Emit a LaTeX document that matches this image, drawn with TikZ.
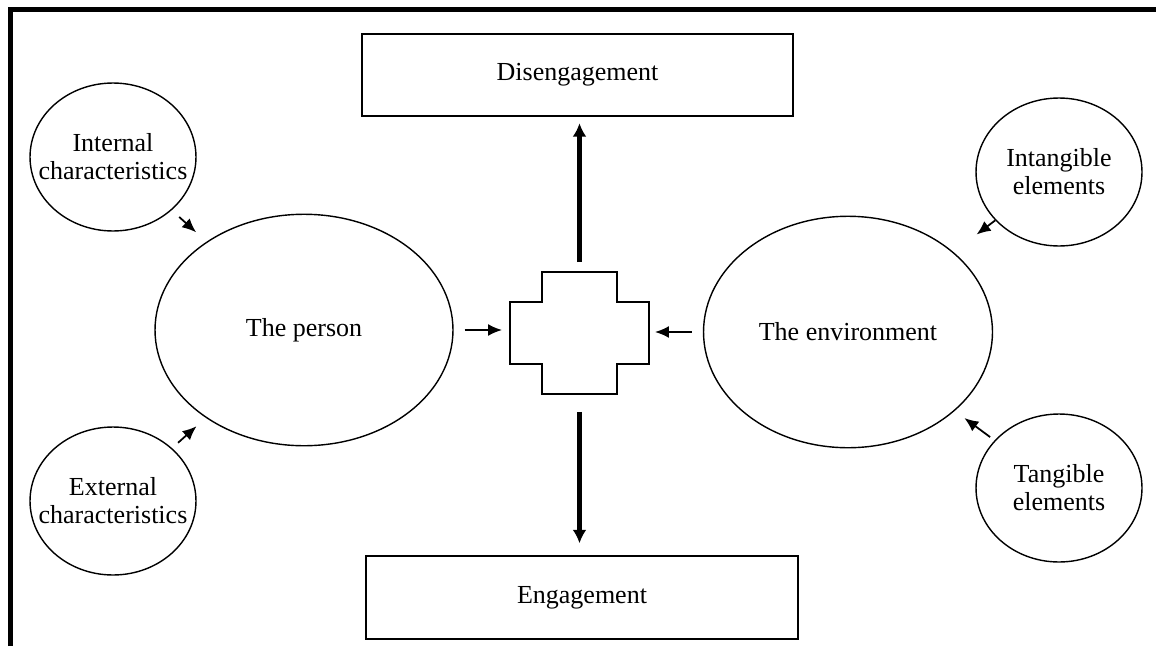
\documentclass[tikz,border=0pt]{standalone}
\usepackage{fontspec}
\setmainfont{Liberation Serif}
\usetikzlibrary{arrows.meta,shapes.geometric}

\begin{document}
\begin{tikzpicture}[x=0.02cm,y=-0.02cm]
    \tikzstyle{every node}=[font=\fontsize{14.8}{16}\selectfont]
    \tikzstyle{outcome}=[draw,line width=1.1pt,minimum width=8.63cm,minimum height=1.65cm]
    \tikzstyle{actor}=[draw,ellipse,line width=0.8pt,minimum height=4.63cm]
    \tikzstyle{factor}=[draw,ellipse,line width=0.8pt,inner xsep=-0.7cm,inner ysep=0pt,
      minimum width=3.32cm,minimum height=2.96cm,align=center]
    \tikzstyle{bigarrow}=[-{Latex[length=0.27cm,width=0.28cm]},line width=2.3pt]
    \tikzstyle{smallarrow}=[-{Latex[length=0.28cm,width=0.24cm]},line width=1pt]
    \useasboundingbox (0,0) rectangle (1156,646);
    \draw[line width=0.1cm] (10.5,646) -- (10.5,9.5) -- (1156,9.5);

    \node[outcome] (diseng) at (577.5,75) {Disengagement};
    \node[outcome] (eng) at (582,597.5) {Engagement};
    \node[actor,minimum width=5.96cm] (person) at (304,330) {The person};
    \node[actor,minimum width=5.78cm] (env) at (848,332) {The environment};
    \node[factor] (intc) at (113,157) {Internal\\characteristics};
    \node[factor] (extc) at (113,501) {External\\characteristics};
    \node[factor] (intg) at (1059,172) {Intangible\\elements};
    \node[factor] (tang) at (1059,488) {Tangible\\elements};
    \node[minimum width=2.78cm,minimum height=2.44cm,inner sep=0pt,outer sep=0pt] (junction) at (579.5,333) {};

    % the cross in the middle
    \draw[line width=1.1pt] (junction.west) ++(0,-31) -- ++(32,0) -- ++(0,-30) -- ++(75,0)
      -- ++(0,30) -- ++(32,0) -- ++(0,62) -- ++(-32,0) -- ++(0,30) -- ++(-75,0)
      -- ++(0,-30) -- ++(-32,0) -- cycle;

    \draw[smallarrow,shorten <=0.2cm,shorten >=0.28cm] (intc) -- (person);
    \draw[smallarrow,shorten <=0.16cm,shorten >=0.25cm] (extc) -- (person);
    \draw[smallarrow,shorten >=0.58cm] (intg) -- (env);
    \draw[smallarrow,shorten <=0.11cm,shorten >=0.24cm] (tang) -- (env);

    \draw[smallarrow,shorten <=0.22cm,shorten >=0.16cm] (person.east) -- (person.east -| junction.west);
    \draw[smallarrow,shorten <=0.22cm,shorten >=0.12cm] (env.west) -- (env.west -| junction.east);
    \draw[bigarrow,shorten <=0.2cm,shorten >=0.12cm] (junction.north) -- (junction.north |- diseng.south);
    \draw[bigarrow,shorten <=0.36cm,shorten >=0.24cm] (junction.south) -- (junction.south |- eng.north);
\end{tikzpicture}
\end{document}
